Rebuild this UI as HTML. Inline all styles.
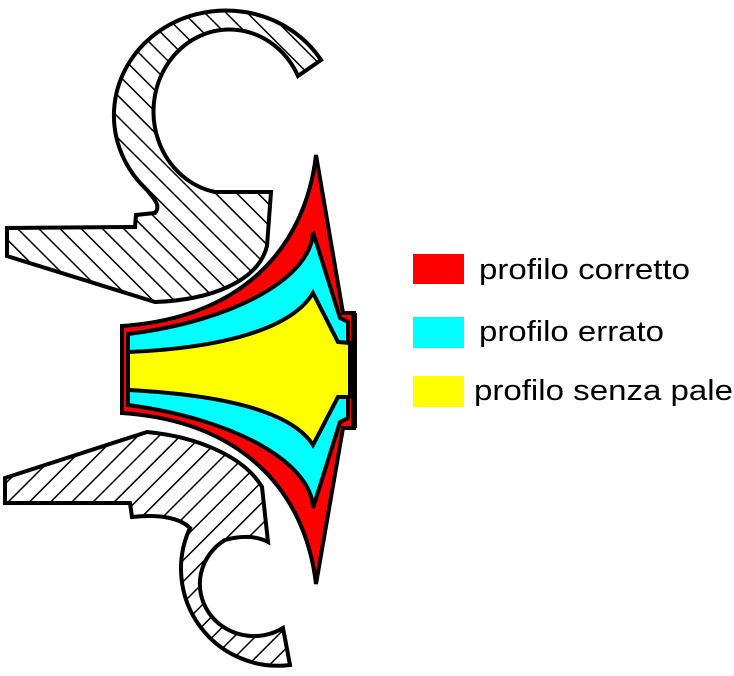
<!DOCTYPE html>
<html><head><meta charset="utf-8"><style>
html,body{margin:0;padding:0;background:#fff;}
svg{display:block;}
</style></head><body>
<svg width="734" height="676" viewBox="0 0 734 676" xmlns="http://www.w3.org/2000/svg">
<defs>
<pattern id="h1" patternUnits="userSpaceOnUse" width="15" height="15" patternTransform="rotate(-45)">
<rect width="15" height="15" fill="#fff"/><line x1="0" y1="0" x2="0" y2="15" stroke="#000" stroke-width="3"/>
</pattern>
<pattern id="h2" patternUnits="userSpaceOnUse" width="15" height="15" patternTransform="rotate(45)">
<rect width="15" height="15" fill="#fff"/><line x1="0" y1="0" x2="0" y2="15" stroke="#000" stroke-width="3"/>
</pattern>
</defs>
<g stroke="#000" stroke-width="4" stroke-linejoin="miter">
<path fill="url(#h1)" d="M321,60 L298,76 A76,82 0 1 0 215,192 L271,192 L267,246 C258,282 210,300 155,302 L7,256 L7,228 L135,227 L136,215 L155,213 C162,205 152,197 147,190 A112,105 0 1 1 321,60 Z"/>
<path fill="url(#h2)" d="M5,478 L147,432 C200,437 245,458 262,487 L268,542 C255,535 240,536 225,540 A52,50 0 0 0 283,628 L290,665 A97,97 0 0 1 190,528 C180,518 160,514 132,517 L130,503 L5,503 Z"/>
<path fill="#f00" d="M316,155 L343,313 L354,313 L354,428 L343,428 L316,584 C305,489 240,421 122,413 L122,326 C240,318 305,250 316,155 Z"/>
<path fill="none" stroke-width="6" d="M354,313 L354,428"/>
<path fill="#0ff" d="M313,232 L340,318 L348,322 L348,418 L340,422 L313,508 C312,465 240,420 128,405 L128,334 C240,320 312,275 313,232 Z"/>
<path fill="#ff0" d="M313,293 L338,342 L350,343 L350,397 L338,397 L313,445 C292,412 225,395 128,390 L128,352 C225,348 292,328 313,293 Z"/>
</g>
<rect x="413" y="254" width="51" height="30" fill="#f00"/>
<rect x="413" y="317" width="51" height="31" fill="#0ff"/>
<rect x="413" y="376" width="51" height="31" fill="#ff0"/>
<g font-family="Liberation Sans, Arial, sans-serif" font-size="29" fill="#000">
<text x="479" y="279" textLength="211" lengthAdjust="spacingAndGlyphs">profilo corretto</text>
<text x="479" y="341" textLength="185" lengthAdjust="spacingAndGlyphs">profilo errato</text>
<text x="474" y="400" textLength="259" lengthAdjust="spacingAndGlyphs">profilo senza pale</text>
</g>
</svg>
</body></html>
